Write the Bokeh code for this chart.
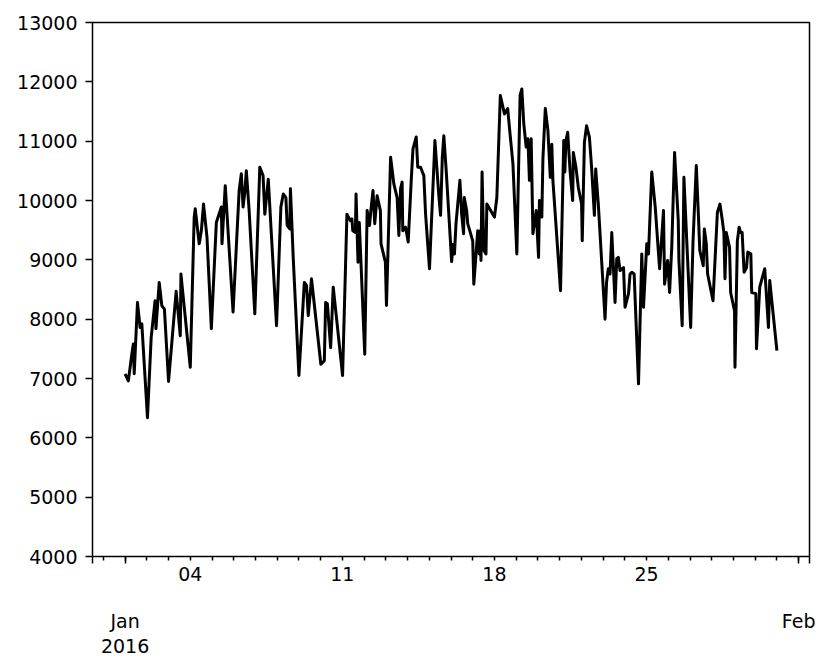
import pandas as pd
from bokeh.plotting import figure
from bokeh.models import LinearAxis, FixedTicker, Range1d, CustomJSTickFormatter
from bokeh.embed import file_html
from bokeh.resources import INLINE

# ---------------- data ----------------
series_start = "2016-01-01"
day_offsets = [
    0.00, 0.15, 0.31, 0.38, 0.42, 0.57, 0.69, 0.77, 1.03, 1.20, 1.38, 1.42, 1.57, 1.69, 1.81,
    2.00, 2.35, 2.54, 2.57, 3.00, 3.18, 3.23, 3.41, 3.51, 3.61, 3.77, 3.97, 4.20, 4.43, 4.46,
    4.61, 4.97, 5.25, 5.35, 5.43, 5.51, 5.58, 5.71, 5.97, 6.20, 6.35, 6.43, 6.59, 6.74, 6.97,
    7.17, 7.28, 7.40, 7.46, 7.58, 7.61, 7.74, 8.00, 8.25, 8.35, 8.43, 8.58, 8.69, 9.01, 9.17,
    9.23, 9.31, 9.46, 9.58, 10.01, 10.21, 10.37, 10.44, 10.48, 10.60, 10.63, 10.72, 10.78, 11.03,
    11.14, 11.25, 11.32, 11.41, 11.49, 11.60, 11.75, 11.78, 11.98, 12.03, 12.22, 12.37, 12.52,
    12.60, 12.68, 12.75, 12.78, 12.91, 13.03, 13.17, 13.25, 13.40, 13.47, 13.60, 13.75, 13.83,
    14.01, 14.26, 14.44, 14.52, 14.60, 14.67, 14.78, 15.03, 15.09, 15.16, 15.23, 15.41, 15.49,
    15.58, 15.61, 15.72, 15.77, 16.00, 16.05, 16.23, 16.30, 16.35, 16.38, 16.43, 16.51, 16.61,
    16.65, 17.00, 17.11, 17.27, 17.46, 17.61, 17.69, 17.85, 18.03, 18.18, 18.26, 18.35, 18.46,
    18.54, 18.61, 18.69, 18.77, 18.92, 19.03, 19.07, 19.18, 19.23, 19.34, 19.46, 19.57, 19.64,
    19.69, 20.04, 20.19, 20.24, 20.29, 20.37, 20.48, 20.60, 20.63, 20.75, 20.86, 21.01, 21.04,
    21.14, 21.24, 21.37, 21.47, 21.60, 21.66, 21.78, 21.86, 22.09, 22.16, 22.24, 22.32, 22.40,
    22.55, 22.63, 22.70, 22.78, 22.94, 23.01, 23.17, 23.24, 23.32, 23.43, 23.63, 23.78, 23.86,
    24.01, 24.09, 24.24, 24.40, 24.60, 24.78, 24.83, 24.97, 25.06, 25.16, 25.29, 25.46, 25.49,
    25.64, 25.72, 26.03, 26.14, 26.29, 26.39, 26.45, 26.61, 26.66, 26.75, 26.81, 27.06, 27.26,
    27.38, 27.49, 27.56, 27.61, 27.67, 27.82, 27.87, 28.05, 28.07, 28.18, 28.26, 28.33, 28.40,
    28.49, 28.60, 28.66, 28.80, 28.84, 29.03, 29.06, 29.21, 29.37, 29.44, 29.61, 29.67, 30.00,
]
values = [
    7080, 6960, 7410, 7580, 7080, 8280, 7860, 7920, 6340, 7690, 8310, 7840, 8620, 8230, 8170,
    6950, 8470, 7720, 8760, 7190, 9720, 9860, 9270, 9490, 9940, 9380, 7840, 9630, 9890, 9270,
    10250, 8120, 10170, 10450, 9890, 10140, 10500, 9830, 8090, 10560, 10420, 9770, 10360, 9380, 7890,
    9890, 10110, 10050, 9580, 9520, 10200, 9020, 7050, 8620, 8570, 8060, 8680, 8310, 7240, 7300,
    8280, 8260, 7520, 8540, 7050, 9770, 9660, 9690, 9490, 9460, 10110, 8960, 9630, 7410,
    9830, 9580, 9860, 10170, 9610, 10080, 9830, 9270, 8960, 8230, 10730, 10280, 10050,
    9410, 10200, 10310, 9490, 9550, 9300, 10340, 10870, 11070, 10560, 10560, 10420, 9770,
    8850, 11010, 10080, 9750, 10730, 11090, 10500, 8970, 9260, 9100, 9610, 10340, 9770,
    9440, 10050, 9830, 9610, 9320, 8590, 9490, 9100, 9490, 8990, 10480, 9160, 9100,
    9940, 9720, 10050, 11770, 11460, 11550, 11230, 10620, 9100, 11770, 11880, 11290, 10900,
    11040, 10340, 11040, 9440, 9830, 9040, 10000, 9720, 10700, 11550, 11180, 10390, 10950,
    10340, 8480, 11010, 10480, 11010, 11150, 10500, 10000, 10810, 10560, 10220, 9940, 9320,
    10980, 11260, 11070, 10560, 9750, 10530, 9940, 9440, 8000, 8620, 8850, 8760, 9460,
    8280, 9020, 9040, 8820, 8870, 8200, 8430, 8760, 8790, 8760, 6910, 9100, 8200,
    9270, 9100, 10480, 9890, 8850, 9830, 8590, 8990, 8450, 9210, 10810, 9660, 8990,
    7890, 10390, 7860, 9320, 10590, 9720, 9160, 8900, 9520, 9270, 8760, 8310, 9800,
    9940, 9660, 9460, 8680, 9460, 9210, 8450, 8140, 7190, 9320, 9550, 9460, 9460,
    8790, 8870, 9130, 9100, 8450, 8430, 7500, 8540, 8760, 8850, 7860, 8650, 7470,
]

y_ticks = [4000, 5000, 6000, 7000, 8000, 9000, 10000, 11000, 12000, 13000]
week_ticks = ["2016-01-04", "2016-01-11", "2016-01-18", "2016-01-25"]
week_labels = ["04", "11", "18", "25"]
month_ticks = ["2016-01-01", "2016-02-01"]
month_labels = ["Jan\n2016", "Feb"]
day_ticks_from, day_ticks_to = "2015-12-31", "2016-02-01"


def ms(t):
    return pd.Timestamp(t).value / 1e6


start = pd.Timestamp(series_start)
times = [start + pd.Timedelta(days=d) for d in day_offsets]
x_start = start - pd.Timedelta(days=1.5)
x_end = start + pd.Timedelta(days=31.5)

FONT = "DejaVu Sans"
FSIZE = "19px"

p = figure(
    frame_width=717, frame_height=534,
    x_range=Range1d(x_start, x_end), y_range=Range1d(4000, 13000),
    x_axis_location=None,
    output_backend="svg", toolbar_location=None,
    min_border_left=92, min_border_top=22, min_border_right=8, min_border_bottom=0,
)
p.background_fill_color = "white"
p.border_fill_color = "white"
p.grid.visible = False
p.outline_line_color = "black"
p.outline_line_width = 1.5

p.line(x=times, y=values, line_color="black", line_width=3, line_join="round")

# y axis
ya = p.yaxis[0]
ya.ticker = FixedTicker(ticks=y_ticks, minor_ticks=[])
ya.axis_line_color = None
ya.major_tick_out = 7
ya.major_tick_in = 0
ya.minor_tick_out = 0
ya.major_tick_line_width = 1.5
ya.major_tick_line_color = "black"
ya.major_label_standoff = 8
ya.major_label_text_font = FONT
ya.major_label_text_font_size = FSIZE
ya.major_label_text_color = "black"

# x axis: ticks only (long at month starts / edges, short daily)
month_ms = [ms(t) for t in month_ticks]
axis_a = LinearAxis(
    ticker=FixedTicker(
        ticks=[ms(x_start)] + month_ms + [ms(x_end)],
        minor_ticks=[ms(t) for t in pd.date_range(day_ticks_from, day_ticks_to, freq="D")],
    ),
    formatter=CustomJSTickFormatter(code="return ''"),
    axis_line_color=None,
    major_tick_out=7, major_tick_in=0, minor_tick_out=4, minor_tick_in=0,
    major_tick_line_width=1.5, minor_tick_line_width=1.5,
    major_tick_line_color="black", minor_tick_line_color="black",
    major_label_text_font_size="0px", major_label_standoff=0,
)
p.add_layout(axis_a, "below")

# x axis: weekly day labels
week_ms = [ms(t) for t in week_ticks]
axis_b = LinearAxis(
    ticker=FixedTicker(ticks=week_ms, minor_ticks=[]),
    major_label_overrides=dict(zip(week_ms, week_labels)),
    axis_line_color=None, major_tick_line_color=None, minor_tick_line_color=None,
    major_tick_out=0, major_tick_in=0, minor_tick_out=0, minor_tick_in=0,
    major_label_standoff=3,
    major_label_text_font=FONT, major_label_text_font_size=FSIZE,
    major_label_text_color="black",
)
p.add_layout(axis_b, "below")

# x axis: month / year labels
axis_c = LinearAxis(
    ticker=FixedTicker(ticks=month_ms, minor_ticks=[]),
    major_label_overrides=dict(zip(month_ms, month_labels)),
    axis_line_color=None, major_tick_line_color=None, minor_tick_line_color=None,
    major_tick_out=0, major_tick_in=0, minor_tick_out=0, minor_tick_in=0,
    major_label_standoff=26,
    major_label_text_font=FONT, major_label_text_font_size=FSIZE,
    major_label_text_color="black", major_label_text_line_height=1.15,
)
p.add_layout(axis_c, "below")

open("out.html", "w").write(file_html(p, INLINE))
